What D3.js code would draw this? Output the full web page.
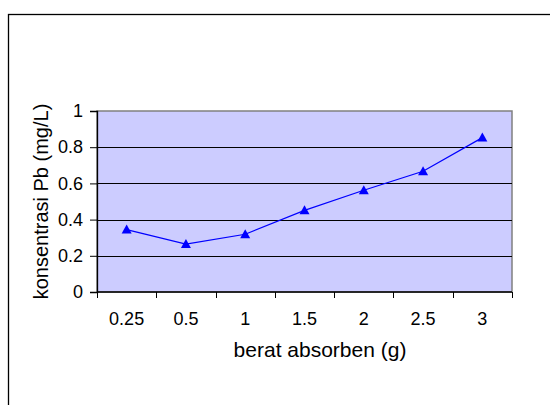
<!DOCTYPE html>
<style>
body { margin: 0; background: #fff; font-family: 'Liberation Sans', Arial, sans-serif; }
</style>
<svg width="550" height="405"></svg>
<script src="https://d3js.org/d3.v7.min.js"></script>
<script>
// data
var categories = ["0.25", "0.5", "1", "1.5", "2", "2.5", "3"];
var values = [0.345, 0.265, 0.319, 0.451, 0.562, 0.667, 0.853];
var yTicks = [0, 0.2, 0.4, 0.6, 0.8, 1];

var svg = d3.select("svg");

// outer chart frame (runs off the right and bottom)
svg.append("rect")
    .attr("x", 8.5).attr("y", 14.5)
    .attr("width", 600).attr("height", 500)
    .attr("fill", "none").attr("stroke", "#000").attr("stroke-width", 1.3);

var plotLeft = 97, plotRight = 512, plotTop = 111, plotBottom = 292;

var x = d3.scaleBand().domain(categories).range([plotLeft, plotRight]);
var y = d3.scaleLinear().domain([0, 1]).range([plotBottom, plotTop]);

// plot area
svg.append("rect")
    .attr("x", plotLeft).attr("y", plotTop)
    .attr("width", plotRight - plotLeft).attr("height", plotBottom - plotTop)
    .attr("fill", "#ccccff").attr("stroke", "#808080").attr("stroke-width", 1.5);

// gridlines
svg.append("g").selectAll("line")
    .data(yTicks.slice(1, -1))
    .enter().append("line")
      .attr("x1", plotLeft).attr("x2", plotRight)
      .attr("y1", function(d) { return Math.round(y(d)) + 0.5; })
      .attr("y2", function(d) { return Math.round(y(d)) + 0.5; })
      .attr("stroke", "#000");

// y axis
var yAxis = svg.append("g")
    .attr("transform", "translate(" + plotLeft + ",0)")
    .call(d3.axisLeft(y).tickValues(yTicks).tickSize(7).tickPadding(7)
      .tickFormat(function(d) { return d3.format("")(d); }));
yAxis.select(".domain").attr("stroke", "#000").attr("stroke-width", 1.3);
yAxis.selectAll("line").attr("stroke", "#000");
yAxis.selectAll("text").attr("font-size", 18).attr("fill", "#000")
    .attr("font-family", "'Liberation Sans', Arial, sans-serif");

// x axis, ticks on band edges
var edges = categories.map(function(c) { return x(c); }).concat([plotRight]);
var xAxis = svg.append("g").attr("transform", "translate(0," + plotBottom + ")");
xAxis.append("line").attr("x1", plotLeft).attr("x2", plotRight)
    .attr("stroke", "#000").attr("stroke-width", 1.5);
xAxis.selectAll(".tk").data(edges).enter().append("line")
    .attr("x1", function(d) { return Math.round(d) + 0.5; })
    .attr("x2", function(d) { return Math.round(d) + 0.5; })
    .attr("y1", 0).attr("y2", 6).attr("stroke", "#000");
xAxis.selectAll("text").data(categories).enter().append("text")
    .attr("x", function(d) { return x(d) + x.bandwidth() / 2; })
    .attr("y", 32.5)
    .attr("text-anchor", "middle")
    .attr("font-size", 18)
    .text(function(d) { return d; });

// line
var line = d3.line()
    .x(function(d, i) { return x(categories[i]) + x.bandwidth() / 2; })
    .y(function(d) { return y(d); });
svg.append("path")
    .datum(values)
    .attr("d", line)
    .attr("fill", "none").attr("stroke", "#0000ff").attr("stroke-width", 1.2);

// triangle markers
svg.append("g").selectAll("path")
    .data(values)
    .enter().append("path")
      .attr("transform", function(d, i) {
        return "translate(" + (x(categories[i]) + x.bandwidth() / 2) + "," + y(d) + ")";
      })
      .attr("d", "M0,-5L5,4L-5,4Z")
      .attr("fill", "#0000ff");

// axis titles
svg.append("text")
    .attr("x", 320).attr("y", 357)
    .attr("text-anchor", "middle").attr("font-size", 21)
    .text("berat absorben (g)");

svg.append("text")
    .attr("transform", "translate(48," + (plotTop + plotBottom) / 2 + ") rotate(-90)")
    .attr("text-anchor", "middle").attr("font-size", 20)
    .text("konsentrasi Pb (mg/L)");
</script>
